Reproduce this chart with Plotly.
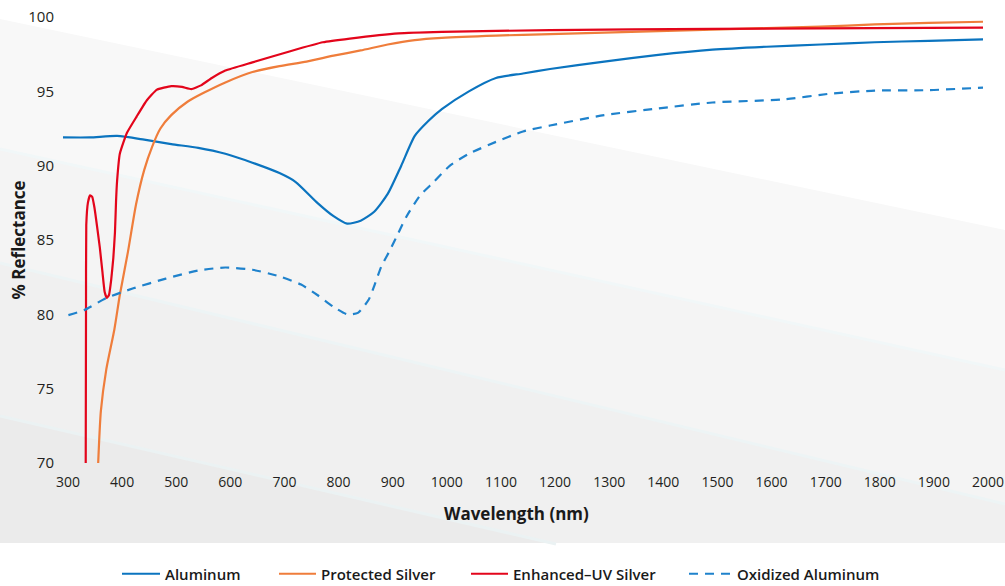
import plotly.graph_objects as go

# Reflectance curves of metallic mirror coatings, wavelength in nm, reflectance in %
aluminum_nm = [300, 350, 400, 450, 500, 550, 600, 650, 700, 730, 770, 800, 825, 850,
               875, 900, 925, 950, 975, 1000, 1050, 1100, 1150, 1200, 1300, 1400,
               1500, 1600, 1700, 1800, 1900, 2000]
aluminum_r = [91.9, 91.9, 92.0, 91.75, 91.45, 91.2, 90.8, 90.2, 89.5, 88.9, 87.5, 86.6,
              86.1, 86.3, 86.9, 88.1, 90.0, 92.0, 93.0, 93.8, 95.0, 95.9, 96.2, 96.5,
              97.0, 97.45, 97.8, 98.0, 98.15, 98.3, 98.4, 98.5]

prot_silver_nm = [365, 370, 380, 395, 405, 420, 435, 450, 465, 480, 500, 530, 560, 600,
                  650, 700, 750, 800, 850, 900, 950, 1000, 1100, 1200, 1300, 1400, 1500,
                  1600, 1700, 1800, 1900, 2000]
prot_silver_r = [70.0, 73.5, 76.3, 79.0, 81.3, 84.2, 87.4, 89.7, 91.3, 92.5, 93.4, 94.3,
                 94.9, 95.6, 96.3, 96.7, 97.0, 97.4, 97.75, 98.15, 98.45, 98.6, 98.75,
                 98.85, 98.95, 99.05, 99.15, 99.25, 99.35, 99.5, 99.6, 99.68]

uv_silver_nm = [342, 342.5, 343, 346, 350, 354, 358, 363, 368, 373, 377, 381, 385, 389,
                393, 396, 398, 400, 405, 418, 436, 455, 473, 500, 520, 537, 555, 575,
                600, 650, 720, 780, 830, 920, 1000, 1200, 1500, 2000]
uv_silver_r = [70.0, 80.0, 86.0, 87.5, 88.0, 87.9, 87.2, 85.9, 84.5, 82.8, 81.5, 81.1,
               81.3, 82.3, 83.8, 85.5, 87.6, 89.0, 90.8, 92.2, 93.3, 94.4, 95.1, 95.35,
               95.3, 95.15, 95.4, 95.9, 96.4, 96.95, 97.7, 98.3, 98.55, 98.9, 99.0,
               99.12, 99.2, 99.28]

oxid_al_nm = [310, 340, 380, 430, 490, 550, 600, 650, 700, 740, 770, 800, 825, 845, 865,
              876, 888, 904, 920, 935, 960, 985, 1015, 1050, 1100, 1150, 1200, 1300,
              1400, 1500, 1630, 1720, 1800, 1900, 2000]
oxid_al_r = [79.95, 80.3, 81.1, 81.75, 82.4, 82.95, 83.15, 83.0, 82.55, 82.0, 81.3, 80.5,
             80.0, 80.1, 81.0, 82.0, 83.2, 84.3, 85.5, 86.6, 88.0, 88.9, 90.0, 90.8,
             91.6, 92.3, 92.7, 93.4, 93.85, 94.25, 94.45, 94.85, 95.05, 95.08, 95.25]

x_ticks = list(range(300, 2001, 100))
y_ticks = [70, 75, 80, 85, 90, 95, 100]

W, H = 1005, 586
ML, MR, MT, MB = 63, 22, 17, 123
PW, PH = W - ML - MR, H - MT - MB


def px(x):
    return (x - ML) / PW


def py(y):
    return (H - MB - y) / PH


def poly(points, color):
    path = "M " + " L ".join(f"{px(a):.4f},{py(b):.4f}" for a, b in points) + " Z"
    return dict(type="path", xref="paper", yref="paper", path=path,
                fillcolor=color, line=dict(width=0), layer="below")


def edge(x0, y0, x1, y1, color):
    return dict(type="line", xref="paper", yref="paper",
                x0=px(x0), y0=py(y0), x1=px(x1), y1=py(y1),
                line=dict(color=color, width=3), layer="below")


# diagonal background bands
shapes = [
    poly([(0, 19), (1005, 230), (1005, 369), (0, 148)], "#f8f8f8"),
    poly([(0, 148), (1005, 369), (1005, 503), (0, 262)], "#f4f4f4"),
    poly([(0, 262), (1005, 503), (1005, 543), (556, 543), (0, 415)], "#f0f0f0"),
    poly([(0, 415), (556, 543), (0, 543)], "#ebebeb"),
    edge(0, 149, 1005, 370, "#f1f7f8"),
    edge(0, 263, 1005, 504, "#edf4f5"),
    edge(0, 416, 556, 544, "#ebf2f3"),
]

fig = go.Figure()
series = [
    ("Aluminum", aluminum_nm, aluminum_r, "#0b74bf", "solid", "legend", 0.6),
    ("Protected Silver", prot_silver_nm, prot_silver_r, "#ef7d3b", "solid", "legend2", 0.6),
    ("Enhanced\u2013UV Silver", uv_silver_nm, uv_silver_r, "#e3051b", "solid", "legend3", 0.4),
    ("Oxidized Aluminum", oxid_al_nm, oxid_al_r, "#1f82cc", "9px,7px", "legend4", 0.6),
]
for name, xs, ys, color, dash, leg, smooth in series:
    fig.add_trace(go.Scatter(x=xs, y=ys, mode="lines", name=name, legend=leg,
                             line=dict(color=color, width=2.2, dash=dash,
                                       shape="spline", smoothing=smooth)))

legend_font = dict(family="Open Sans", size=15, color="#1a1a1a", weight=600)
leg_common = dict(orientation="h", xref="container", yref="container",
                  xanchor="left", yanchor="middle", y=1 - 574 / H,
                  bgcolor="rgba(0,0,0,0)", font=legend_font)
# left edge and symbol width of each legend entry
legend_pos = {"legend": (117, 38), "legend2": (274, 37),
              "legend3": (466, 37), "legend4": (684, 43)}

axis_font = dict(family="Open Sans", size=17, color="#1a1a1a", weight=700)

fig.update_layout(
    width=W, height=H,
    margin=dict(l=ML, r=MR, t=MT, b=MB, autoexpand=False),
    paper_bgcolor="white", plot_bgcolor="rgba(0,0,0,0)",
    showlegend=True,
    shapes=shapes,
    xaxis=dict(range=[300, 2000], tickvals=x_ticks, ticktext=[str(v) for v in x_ticks],
               showgrid=False, zeroline=False, showline=False, ticks="",
               ticklabelshift=5, ticklabelstandoff=9, automargin=False,
               tickfont=dict(family="Open Sans", size=14, color="#231f20")),
    yaxis=dict(range=[70, 100], tickvals=y_ticks, showgrid=False, zeroline=False,
               showline=False, ticks="", ticklabelstandoff=8, automargin=False,
               tickfont=dict(family="Open Sans", size=15, color="#231f20")),
    annotations=[
        dict(text="% Reflectance", xref="paper", yref="paper", x=px(17.5), y=py(240),
             xanchor="center", yanchor="middle",
             textangle=-90, showarrow=False, font=axis_font),
        dict(text="Wavelength (nm)", xref="paper", yref="paper", x=px(516), y=py(513),
             xanchor="center", yanchor="middle", showarrow=False, font=axis_font),
    ],
)
for leg, (xv, iw) in legend_pos.items():
    fig.update_layout({leg: dict(leg_common, x=xv / W, itemwidth=iw)})

fig.write_html("out.html")
